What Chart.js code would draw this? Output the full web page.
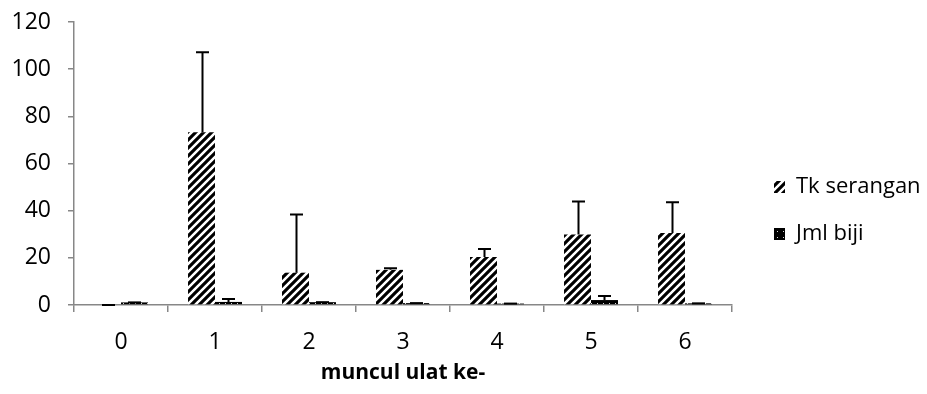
<!DOCTYPE html>
<html>
<head>
<meta charset="utf-8">
<script src="https://cdn.jsdelivr.net/npm/chart.js@4.4.1/dist/chart.umd.min.js"></script>
<style>
  html, body { margin: 0; padding: 0; background: #ffffff; }
  #wrap { width: 927px; height: 394px; position: relative; }
</style>
</head>
<body>
<div id="wrap"><canvas id="chart" width="927" height="394"></canvas></div>
<script>
// Categories: emergence number of the caterpillars
const categories = ['0', '1', '2', '3', '4', '5', '6'];

// Series values and their (upper) error amounts
const tkSerangan = [0, 73.2, 13.7, 14.9, 20.4, 29.9, 30.5];
const tkSeranganErr = [0, 34.0, 24.7, 0.7, 3.3, 14.0, 13.1];
const jmlBiji = [1.1, 1.3, 1.2, 0.8, 0.6, 2.1, 0.7];
const jmlBijiErr = [0, 1.2, 0, 0, 0, 1.7, 0];

const seriesNames = ['Tk serangan', 'Jml biji'];
const yTicks = [0, 20, 40, 60, 80, 100, 120];

const FONT = "'Open Sans', 'Noto Sans', sans-serif";
const AXIS_COLOR = '#878787';

// Wide upward diagonal stripes
function stripePattern() {
  const c = document.createElement('canvas');
  c.width = 8; c.height = 8;
  const g = c.getContext('2d');
  g.fillStyle = '#ffffff';
  g.fillRect(0, 0, 8, 8);
  g.strokeStyle = '#000000';
  g.lineWidth = 3.1;
  g.beginPath();
  for (let k = -8; k <= 16; k += 8) {
    g.moveTo(k - 4, 12);
    g.lineTo(k + 12, -4);
  }
  g.stroke();
  return g.createPattern(c, 'repeat');
}

// Solid dark fill sprinkled with small light dots
function dotPattern() {
  const c = document.createElement('canvas');
  c.width = 6; c.height = 6;
  const g = c.getContext('2d');
  g.fillStyle = '#000000';
  g.fillRect(0, 0, 6, 6);
  g.fillStyle = '#d8d8d8';
  g.fillRect(3, 3, 1, 1);
  return g.createPattern(c, 'repeat');
}

const fills = [stripePattern(), dotPattern()];
const errors = [tkSeranganErr, jmlBijiErr];

// Positive error bars with caps, drawn at each bar's top
const errorBars = {
  id: 'errorBars',
  afterDatasetsDraw(chart) {
    const ctx = chart.ctx;
    const yScale = chart.scales.y;
    ctx.save();
    ctx.strokeStyle = '#000000';
    ctx.lineWidth = 2;
    chart.data.datasets.forEach((ds, i) => {
      const meta = chart.getDatasetMeta(i);
      meta.data.forEach((bar, j) => {
        const top = yScale.getPixelForValue(ds.data[j] + errors[i][j]);
        const x = Math.round(bar.x) + 0.5;
        ctx.beginPath();
        ctx.moveTo(x, bar.y);
        ctx.lineTo(x, top);
        ctx.moveTo(x - 6.5, top);
        ctx.lineTo(x + 6.5, top);
        ctx.stroke();
      });
    });
    ctx.restore();
  }
};

// Legend on the right, drawn from the dataset labels and fills
const sideLegend = {
  id: 'sideLegend',
  afterDraw(chart) {
    const ctx = chart.ctx;
    const rows = [187, 234];
    ctx.save();
    ctx.font = '22px ' + FONT;
    ctx.textBaseline = 'middle';
    ctx.fillStyle = '#000000';
    chart.data.datasets.forEach((ds, i) => {
      const yc = rows[i];
      ctx.fillStyle = ds.backgroundColor;
      ctx.fillRect(774, yc - 6, 11, 12);
      ctx.fillStyle = '#000000';
      ctx.fillText(ds.label, 796, yc);
    });
    ctx.restore();
  }
};

new Chart(document.getElementById('chart'), {
  type: 'bar',
  data: {
    labels: categories,
    datasets: [
      { label: seriesNames[0], data: tkSerangan, backgroundColor: fills[0], borderWidth: 0 },
      { label: seriesNames[1], data: jmlBiji, backgroundColor: fills[1], borderWidth: 0 }
    ]
  },
  options: {
    responsive: false,
    animation: false,
    devicePixelRatio: 1,
    datasets: { bar: { categoryPercentage: 0.574, barPercentage: 1.0 } },
    layout: { padding: { left: 10, right: 195, top: 22, bottom: 0 } },
    plugins: {
      legend: { display: false },
      tooltip: { enabled: false }
    },
    scales: {
      x: {
        grid: { display: true, drawOnChartArea: false, drawTicks: true, tickLength: 7, color: AXIS_COLOR, lineWidth: 1.5, offset: true },
        border: { display: true, color: AXIS_COLOR, width: 1.5 },
        ticks: { color: '#000000', font: { family: FONT, size: 23 }, padding: 17 },
        title: { display: true, text: 'muncul ulat ke-', color: '#000000', font: { family: FONT, size: 21, weight: 'bold' }, padding: { top: 8, bottom: 8 } },
        afterFit(scale) { scale.height = 89; scale.paddingLeft = 0; scale.paddingRight = 0; }
      },
      y: {
        min: 0,
        max: 120,
        afterBuildTicks(scale) { scale.ticks = yTicks.map(v => ({ value: v })); },
        grid: { display: true, drawOnChartArea: false, drawTicks: true, tickLength: 6, color: AXIS_COLOR, lineWidth: 1.5 },
        border: { display: true, color: AXIS_COLOR, width: 1.5 },
        ticks: { color: '#000000', font: { family: FONT, size: 23 }, padding: 17 },
        afterFit(scale) { scale.width = 64; scale.paddingTop = 0; scale.paddingBottom = 0; }
      }
    }
  },
  plugins: [errorBars, sideLegend]
});
</script>
</body>
</html>
